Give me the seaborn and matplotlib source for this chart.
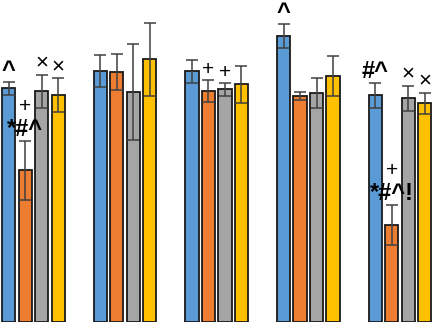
import pandas as pd
import matplotlib
matplotlib.use("Agg")
import matplotlib.pyplot as plt
import seaborn as sns

# data (arbitrary units)
groups = ["G1", "G2", "G3", "G4", "G5"]
series = ["A", "B", "C", "D"]
colors = ["#5B9BD5", "#ED7D31", "#A5A5A5", "#FFC000"]

blue_vals = [93.6, 100.4, 100.4, 114.4, 90.8]
orange_vals = [60.8, 100.0, 92.4, 90.4, 38.8]
gray_vals = [92.4, 92.0, 93.2, 91.6, 89.6]
yellow_vals = [90.8, 105.2, 95.2, 98.4, 87.6]

blue_err = [2.6, 6.4, 4.6, 4.8, 5.0]
orange_err = [11.8, 7.2, 4.4, 1.6, 8.0]
gray_err = [6.6, 19.2, 2.6, 6.0, 5.0]
yellow_err = [6.8, 14.6, 7.4, 8.0, 4.2]

blue_marks = ["^", "", "", "^", "#^"]
orange_marks = ["*#^", "", "+", "", "*#^!"]
orange_plus = ["+", "", "", "", "+"]
gray_marks = ["×", "", "+", "", "×"]
yellow_marks = ["×", "", "", "", "×"]

vals = [blue_vals, orange_vals, gray_vals, yellow_vals]
errs = [blue_err, orange_err, gray_err, yellow_err]
marks = [blue_marks, orange_marks, gray_marks, yellow_marks]

rows = []
for s, v in zip(series, vals):
    for g, y in zip(groups, v):
        rows.append({"group": g, "series": s, "value": y})
df = pd.DataFrame(rows)

sns.set_style("white")
plt.rcParams["font.family"] = ["Liberation Sans", "DejaVu Sans"]

fig = plt.figure(figsize=(4.34, 3.22), dpi=100)
ax = fig.add_axes([0, 0, 1, 1])

sns.barplot(data=df, x="group", y="value", hue="series", palette=colors,
            saturation=1, width=0.72, gap=0.2, edgecolor="#1a1a1a", linewidth=1.3,
            errorbar=None, legend=False, ax=ax)

PX = 0.72  # points per pixel at 100 dpi


def put(txt, x, y, dy_px):
    if txt == "×":
        size, weight = 16, "normal"
        dy_px += 1
    elif txt == "+":
        size, weight = 15, "normal"
    else:
        size, weight = 17, "bold"
    ax.annotate(txt, (x, y), xytext=(0, dy_px * PX), textcoords="offset points",
                ha="center", va="baseline", fontsize=size, fontweight=weight,
                color="black")


# error bars + significance marks, matched to the drawn bars
bars = sorted([p for p in ax.patches if p.get_width() > 0], key=lambda p: p.get_x())
for i, p in enumerate(bars):
    g, s = divmod(i, 4)
    x = p.get_x() + p.get_width() / 2
    y = vals[s][g]
    e = errs[s][g]
    ax.errorbar(x, y, yerr=e, color="#404040", lw=1.1, capsize=4, capthick=1.1)
    if marks[s][g]:
        put(marks[s][g], x, y + e, 5)
    if s == 1 and orange_plus[g]:
        put(orange_plus[g], x, y + e, 29)

ax.set_xlim(-0.366, 4.372)
ax.set_ylim(0, 128.8)
ax.axis("off")

fig.savefig("out.png", dpi=100)
